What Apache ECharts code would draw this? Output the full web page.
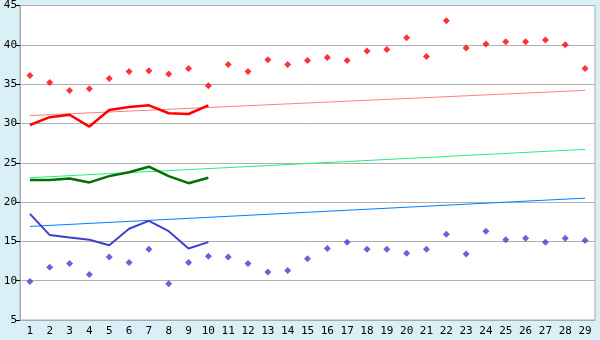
<!DOCTYPE html>
<html>
<head>
<meta charset="utf-8">
<script src="https://cdn.jsdelivr.net/npm/echarts@6/dist/echarts.min.js"></script>
<style>html,body{margin:0;padding:0;background:#d9f0f7;}#c{width:600px;height:340px;}</style>
</head>
<body>
<div id="c"></div>
<script>
var categories = [];
for (var i = 1; i <= 29; i++) categories.push(String(i));

var maxPoints = [36.1,35.2,34.2,34.4,35.7,36.6,36.7,36.3,37.0,34.8,37.5,36.6,38.1,37.5,38.0,38.4,38.0,39.2,39.4,40.9,38.5,43.05,39.6,40.1,40.4,40.4,40.6,40.0,37.0];
var minPoints = [9.9,11.7,12.2,10.8,13.0,12.3,14.0,9.6,12.3,13.1,13.0,12.2,11.1,11.3,12.8,14.1,14.9,14.0,14.0,13.5,14.0,15.9,13.4,16.3,15.2,15.4,14.9,15.4,15.1];
var redLine = [29.8,30.8,31.1,29.6,31.7,32.1,32.3,31.3,31.2,32.3];
var greenLine = [22.8,22.8,23.0,22.5,23.3,23.8,24.5,23.3,22.4,23.1];
var blueLine = [18.5,15.8,15.5,15.2,14.5,16.6,17.6,16.3,14.1,14.9];
var redTrend = [31.0, 34.2];
var greenTrend = [23.1, 26.7];
var blueTrend = [16.9, 20.5];

function trend(v) { return [[0, v[0]], [categories.length - 1, v[1]]]; }

var chart = echarts.init(document.getElementById('c'), null, {renderer: 'canvas'});
var font = '"DejaVu Sans Mono", monospace';
chart.setOption({
  backgroundColor: '#d9f0f7',
  animation: false,
  grid: {left: 20, right: 5, top: 5, bottom: 20, show: true, backgroundColor: '#ffffff', borderColor: '#aaaaaa', borderWidth: 1},
  xAxis: {
    type: 'category', data: categories, boundaryGap: true,
    axisLine: {lineStyle: {color: '#aaaaaa'}},
    axisTick: {alignWithLabel: true, length: 4, lineStyle: {color: '#000'}},
    axisLabel: {color: '#000', fontFamily: font, fontSize: 11, margin: 6, interval: 0},
    splitLine: {show: false}
  },
  yAxis: {
    type: 'value', min: 5, max: 45, interval: 5,
    axisLine: {show: true, lineStyle: {color: '#aaaaaa'}},
    axisTick: {show: true, length: 4, lineStyle: {color: '#000'}},
    axisLabel: {color: '#000', fontFamily: font, fontSize: 11, margin: 3},
    splitLine: {lineStyle: {color: '#b0b0b0', width: 1}}
  },
  series: [
    {type: 'line', data: trend(redTrend), symbol: 'none', lineStyle: {color: '#ff8080', width: 1}, z: 1},
    {type: 'line', data: trend(greenTrend), symbol: 'none', lineStyle: {color: '#20f080', width: 1}, z: 1},
    {type: 'line', data: trend(blueTrend), symbol: 'none', lineStyle: {color: '#0080ff', width: 1}, z: 1},
    {type: 'line', data: redLine, symbol: 'none', lineStyle: {color: '#ff0000', width: 2.5}, z: 2},
    {type: 'line', data: greenLine, symbol: 'none', lineStyle: {color: '#007000', width: 2.5}, z: 2},
    {type: 'line', data: blueLine, symbol: 'none', lineStyle: {color: '#3f3fcf', width: 2}, z: 2},
    {type: 'scatter', data: maxPoints, symbol: 'diamond', symbolSize: 7, itemStyle: {color: '#ff0000'}, z: 3},
    {type: 'scatter', data: minPoints, symbol: 'diamond', symbolSize: 7, itemStyle: {color: '#3f3fcf'}, z: 3}
  ]
});
</script>
</body>
</html>
